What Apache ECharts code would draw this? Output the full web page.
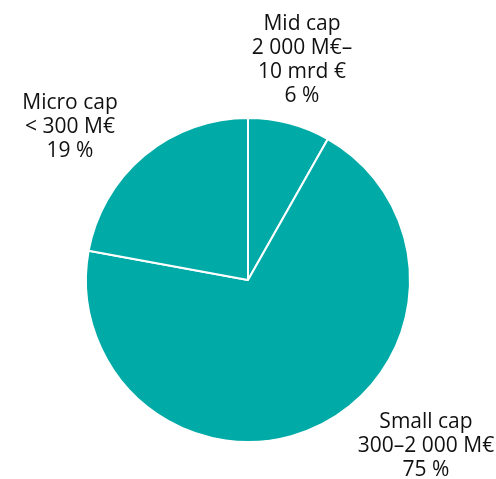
<!DOCTYPE html>
<html>
<head>
<meta charset="utf-8">
<script src="https://cdn.jsdelivr.net/npm/echarts@6/dist/echarts.min.js"></script>
<style>html,body{margin:0;padding:0;background:#fff;}#c{width:496px;height:479px;}</style>
</head>
<body>
<div id="c"></div>
<script>
// Categories (clockwise from 12 o'clock)
var categories = ['Mid cap', 'Small cap', 'Micro cap'];
// Size ranges shown in labels
var ranges = ['2 000 M€–\n10 mrd €', '300–2 000 M€', '< 300 M€'];
// Percentages printed in labels
var shareLabels = ['6 %', '75 %', '19 %'];
// Slice sizes as drawn in the picture
var values = [8.2, 69.7, 22.1];

var labelPos = [[302, 60], [426, 446], [70, 127]];

var chart = echarts.init(document.getElementById('c'));
chart.setOption({
  animation: false,
  series: [{
    type: 'pie',
    center: [248, 280],
    radius: [0, 162],
    startAngle: 90,
    clockwise: true,
    itemStyle: { color: '#00aba7', borderColor: '#ffffff', borderWidth: 2 },
    label: {
      show: true,
      position: 'inside',
      overflow: 'none',
      fontFamily: 'Open Sans',
      fontSize: 21,
      lineHeight: 24,
      color: '#111111',
      align: 'center',
      formatter: function (p) {
        return categories[p.dataIndex] + '\n' + ranges[p.dataIndex] + '\n' + shareLabels[p.dataIndex];
      }
    },
    labelLine: { show: false },
    labelLayout: function (p) {
      return { x: labelPos[p.dataIndex][0], y: labelPos[p.dataIndex][1], align: 'center', verticalAlign: 'middle' };
    },
    emphasis: { disabled: true },
    data: categories.map(function (c, i) { return { name: c, value: values[i] }; })
  }]
});
</script>
</body>
</html>
